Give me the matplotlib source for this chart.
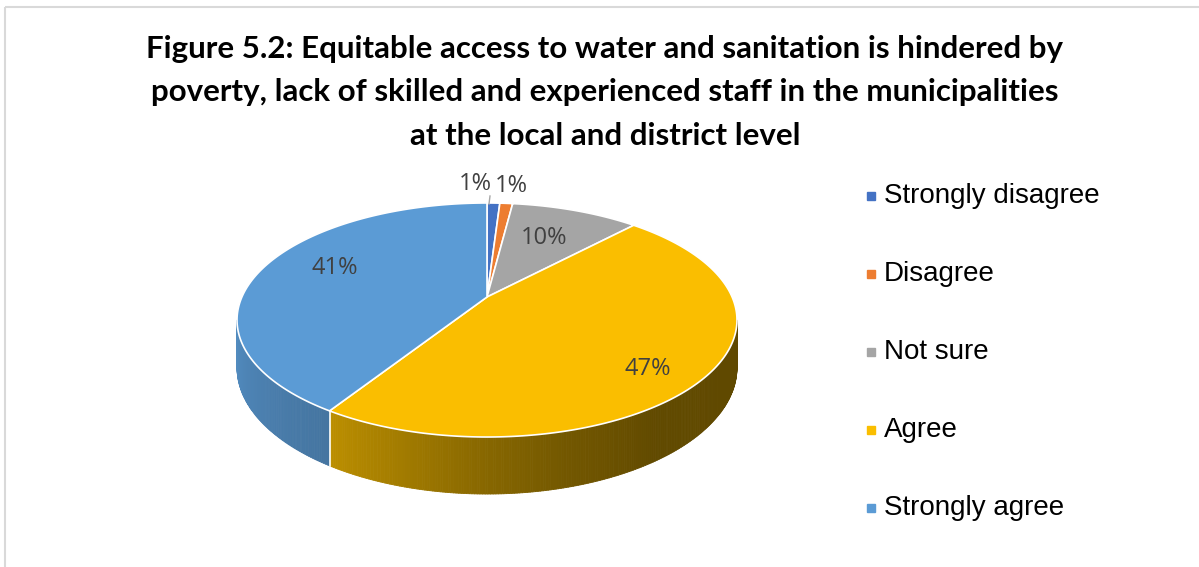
import numpy as np
import matplotlib.pyplot as plt
import matplotlib.colors as mcolors
from matplotlib.patches import Polygon
from matplotlib.collections import PolyCollection

# data
labels = ['Strongly disagree', 'Disagree', 'Not sure', 'Agree', 'Strongly agree']
values = [1, 1, 10, 47, 41]
pct_text = ['1%', '1%', '10%', '47%', '41%']
colors = ['#4472C4', '#ED7D31', '#A5A5A5', '#FABE00', '#5B9BD5']
title_lines = ['Figure 5.2: Equitable access to water and sanitation is hindered by',
               'poverty, lack of skilled and experienced staff in the municipalities',
               'at the local and district level']

# label spots (pixels)
label_xy = [(475, 184), (511, 186), (544, 238), (648, 369), (335, 268)]

# 3d pie projection settings (pixels)
CX, CY = 487, 297
C = 0.1966
A = -54.1
D = 245.1
DEPTH = 45.8


def proj(theta, r=1.0):
    t = np.radians(theta)
    u = r*np.sin(t)
    v = r*np.cos(t)
    w = 1 + C*v
    return CX + D*u/w, (A*v + CY)/w


def depth(theta):
    return DEPTH/(1 + C*np.cos(np.radians(theta)))


def shade(theta):
    # light coming from the left front
    return np.interp(theta, [101, 145, 165, 180, 195, 212, 259],
                     [0.38, 0.39, 0.46, 0.54, 0.64, 0.75, 0.90])


fig = plt.figure(figsize=(11.99, 5.67), dpi=100)
ax = fig.add_axes([0, 0, 1, 1])
ax.set_xlim(0, 1199)
ax.set_ylim(567, 0)
ax.axis('off')

# frame
ax.plot([5, 1199], [7, 7], color='#D9D9D9', lw=1.5, solid_capstyle='butt')
ax.plot([5, 5], [7, 567], color='#D9D9D9', lw=1.5, solid_capstyle='butt')

bounds = np.concatenate([[0], np.cumsum(values)])/np.sum(values)*360
th_l = np.degrees(np.arccos(-C))
th_r = 360 - th_l

# side walls
quads, qcols = [], []
for i in range(len(values)):
    lo = max(bounds[i], th_l)
    hi = min(bounds[i+1], th_r)
    if lo >= hi:
        continue
    ts = np.append(np.arange(lo, hi, 0.5), hi)
    base = np.array(mcolors.to_rgb(colors[i]))
    for a, b in zip(ts[:-1], ts[1:]):
        x1, y1 = proj(a)
        x2, y2 = proj(b)
        quads.append([(x1, y1), (x2, y2), (x2, y2 + depth(b)), (x1, y1 + depth(a))])
        qcols.append(np.clip(base*shade((a + b)/2), 0, 1))
pc = PolyCollection(quads, facecolors=qcols, edgecolors=qcols, linewidths=0.6, zorder=1)
ax.add_collection(pc)

# white divider lines on the side
for b in bounds[1:-1]:
    if th_l < b < th_r:
        x, y = proj(b)
        ax.plot([x, x], [y, y + depth(b)], color='white', lw=1.2, zorder=2)

# top face
for i in range(len(values)):
    ts = np.linspace(bounds[i], bounds[i+1], 200)
    xs, ys = proj(ts)
    pts = [(CX, CY)] + list(zip(xs, ys))
    ax.add_patch(Polygon(pts, closed=True, fc=colors[i], ec='white', lw=1.2, zorder=3))

# data labels
for (x, y), t in zip(label_xy, pct_text):
    ax.text(x, y, t, ha='center', va='center', fontsize=17, color='#404040',
            family='Open Sans', zorder=5)
ax.plot([490, 489], [196, 204], color='#A6A6A6', lw=1, zorder=4)

# legend
for i, lab in enumerate(labels):
    y = 196 + 78*i
    ax.plot(871, y, marker='s', ms=6, color=colors[i], zorder=5)
    ax.text(884, y, lab, ha='left', va='center', fontsize=20, color='black',
            family='Liberation Sans')

# title
for i, line in enumerate(title_lines):
    ax.text(605, 49 + 43.5*i, line, ha='center', va='center', fontsize=22.5,
            fontweight='bold', family='Lato', color='black')

plt.savefig('out.png', dpi=100)
